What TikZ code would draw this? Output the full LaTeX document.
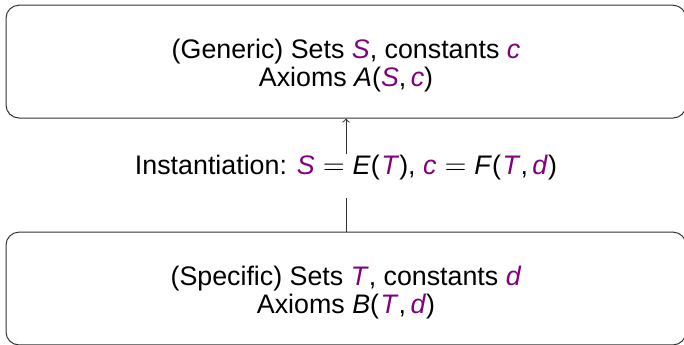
\documentclass[tikz,border=0pt]{standalone}
\usepackage{fontspec}
\setmainfont{Liberation Sans}
\usepackage{xcolor}
\usetikzlibrary{positioning}
\definecolor{var}{HTML}{800080}
\definecolor{edge}{HTML}{333333}
\newcommand{\vr}[1]{\textcolor{var}{\textit{#1}}}
\newcommand{\fn}[1]{\textit{#1}}
\newcommand{\eq}{\ensuremath{{}={}}}
\newcommand{\lift}{\rule{0pt}{13.3pt}}
\tikzset{
  level/.style={draw=edge,line width=0.5pt,rounded corners=6.5pt,minimum width=340pt,minimum height=56.4pt,align=center,font=\fontsize{13.4}{14}\selectfont},
  inst/.style={inner sep=0pt,font=\fontsize{13.4}{14}\selectfont},
  link/.style={edge,line width=0.5pt},
}

\begin{document}
\begin{tikzpicture}[x=0.5pt,y=-0.5pt]
\useasboundingbox (0,0) rectangle (684,344);
\node[level] (generic) at (346,61.6) {\lift(Generic) Sets \vr{S}, constants \vr{c}\\Axioms \fn{A}(\vr{S},\,\vr{c})};
\node[level] (specific) at (346,288.5) {\lift(Specific) Sets \vr{T}, constants \vr{d}\\Axioms \fn{B}(\kern0.8pt\vr{T},\,\vr{d})};
\node[inst,anchor=base] (inst) at (346,174) {Instantiation: \vr{S}\eq\fn{E}(\kern0.8pt\vr{T}), \vr{c}\eq\fn{F}(\kern0.8pt\vr{T},\,\vr{d})};
\draw[link,->] (inst.north) -- (generic.south);
\draw[link] (specific.north) -- ([yshift=-9pt]inst.south);
\end{tikzpicture}
\end{document}
